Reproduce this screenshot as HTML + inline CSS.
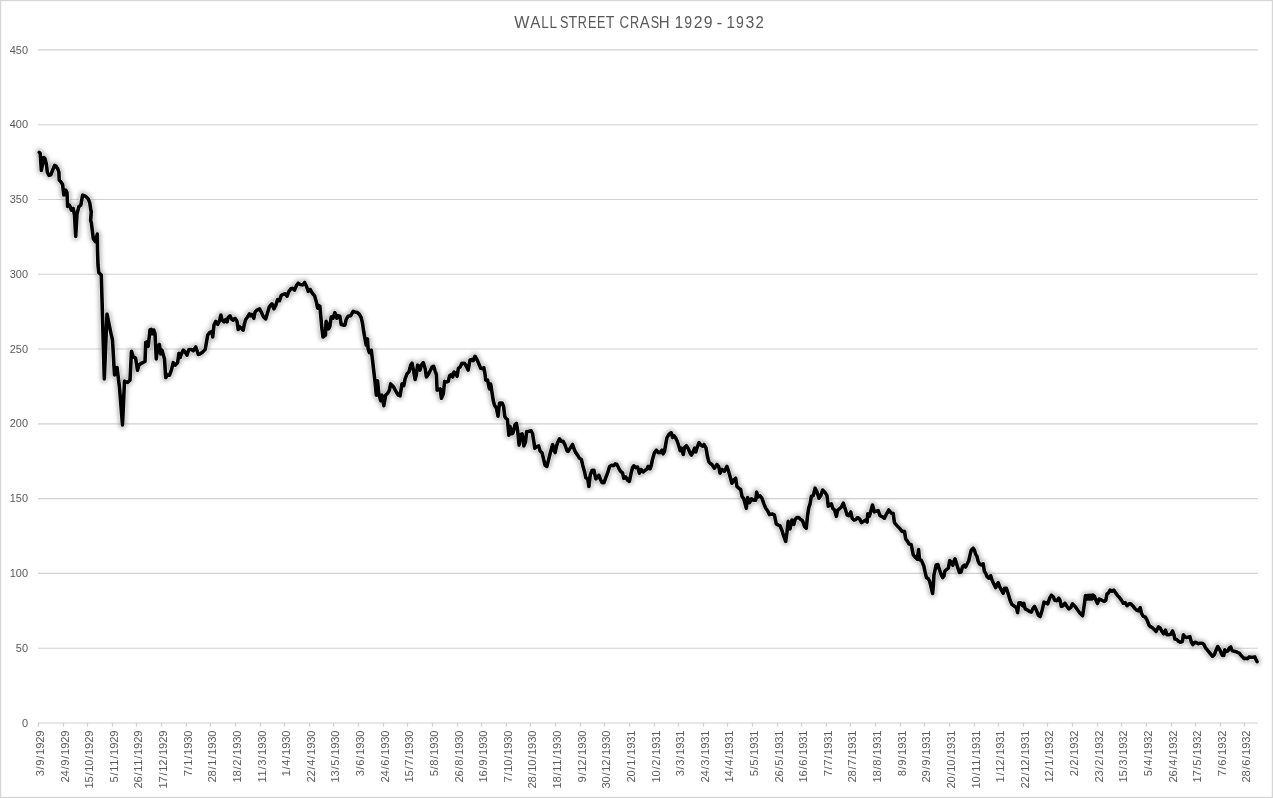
<!DOCTYPE html>
<html><head><meta charset="utf-8"><title>Wall Street Crash 1929 - 1932</title>
<style>
html,body{margin:0;padding:0;background:#fff;}
body{width:1273px;height:798px;overflow:hidden;}
svg{display:block;}
text{font-family:"Liberation Sans",Arial,sans-serif;fill:#595959;}
</style></head><body>
<svg width="1273" height="798" viewBox="0 0 1273 798">
<defs>
<filter id="glow" x="-5%" y="-5%" width="110%" height="110%">
<feGaussianBlur stdDeviation="2"/>
</filter>
<filter id="tb" x="-2%" y="-2%" width="104%" height="104%">
<feGaussianBlur stdDeviation="0.3"/>
</filter>
</defs>
<rect x="0" y="0" width="1273" height="798" fill="#fff"/>
<rect x="0.5" y="0.5" width="1272" height="797" fill="none" stroke="#d6d6d6" stroke-width="1.4"/>

<line x1="38" x2="1257.8" y1="648.21" y2="648.21" stroke="#d0d0d0" stroke-width="1.1"/>
<line x1="38" x2="1257.8" y1="573.42" y2="573.42" stroke="#d0d0d0" stroke-width="1.1"/>
<line x1="38" x2="1257.8" y1="498.63" y2="498.63" stroke="#d0d0d0" stroke-width="1.1"/>
<line x1="38" x2="1257.8" y1="423.84" y2="423.84" stroke="#d0d0d0" stroke-width="1.1"/>
<line x1="38" x2="1257.8" y1="349.06" y2="349.06" stroke="#d0d0d0" stroke-width="1.1"/>
<line x1="38" x2="1257.8" y1="274.27" y2="274.27" stroke="#d0d0d0" stroke-width="1.1"/>
<line x1="38" x2="1257.8" y1="199.48" y2="199.48" stroke="#d0d0d0" stroke-width="1.1"/>
<line x1="38" x2="1257.8" y1="124.69" y2="124.69" stroke="#d0d0d0" stroke-width="1.1"/>
<line x1="38" x2="1257.8" y1="49.90" y2="49.90" stroke="#d0d0d0" stroke-width="1.1"/>
<line x1="38" x2="1257.8" y1="723.00" y2="723.00" stroke="#d0d0d0" stroke-width="1.1"/>
<line x1="38.5" x2="38.5" y1="723.0" y2="726.4" stroke="#d0d0d0" stroke-width="1.3"/>
<line x1="63.5" x2="63.5" y1="723.0" y2="726.4" stroke="#d0d0d0" stroke-width="1.3"/>
<line x1="87.5" x2="87.5" y1="723.0" y2="726.4" stroke="#d0d0d0" stroke-width="1.3"/>
<line x1="112.5" x2="112.5" y1="723.0" y2="726.4" stroke="#d0d0d0" stroke-width="1.3"/>
<line x1="136.5" x2="136.5" y1="723.0" y2="726.4" stroke="#d0d0d0" stroke-width="1.3"/>
<line x1="161.5" x2="161.5" y1="723.0" y2="726.4" stroke="#d0d0d0" stroke-width="1.3"/>
<line x1="186.5" x2="186.5" y1="723.0" y2="726.4" stroke="#d0d0d0" stroke-width="1.3"/>
<line x1="210.5" x2="210.5" y1="723.0" y2="726.4" stroke="#d0d0d0" stroke-width="1.3"/>
<line x1="235.5" x2="235.5" y1="723.0" y2="726.4" stroke="#d0d0d0" stroke-width="1.3"/>
<line x1="260.5" x2="260.5" y1="723.0" y2="726.4" stroke="#d0d0d0" stroke-width="1.3"/>
<line x1="284.5" x2="284.5" y1="723.0" y2="726.4" stroke="#d0d0d0" stroke-width="1.3"/>
<line x1="309.5" x2="309.5" y1="723.0" y2="726.4" stroke="#d0d0d0" stroke-width="1.3"/>
<line x1="333.5" x2="333.5" y1="723.0" y2="726.4" stroke="#d0d0d0" stroke-width="1.3"/>
<line x1="358.5" x2="358.5" y1="723.0" y2="726.4" stroke="#d0d0d0" stroke-width="1.3"/>
<line x1="383.5" x2="383.5" y1="723.0" y2="726.4" stroke="#d0d0d0" stroke-width="1.3"/>
<line x1="407.5" x2="407.5" y1="723.0" y2="726.4" stroke="#d0d0d0" stroke-width="1.3"/>
<line x1="432.5" x2="432.5" y1="723.0" y2="726.4" stroke="#d0d0d0" stroke-width="1.3"/>
<line x1="457.5" x2="457.5" y1="723.0" y2="726.4" stroke="#d0d0d0" stroke-width="1.3"/>
<line x1="481.5" x2="481.5" y1="723.0" y2="726.4" stroke="#d0d0d0" stroke-width="1.3"/>
<line x1="506.5" x2="506.5" y1="723.0" y2="726.4" stroke="#d0d0d0" stroke-width="1.3"/>
<line x1="530.5" x2="530.5" y1="723.0" y2="726.4" stroke="#d0d0d0" stroke-width="1.3"/>
<line x1="555.5" x2="555.5" y1="723.0" y2="726.4" stroke="#d0d0d0" stroke-width="1.3"/>
<line x1="580.5" x2="580.5" y1="723.0" y2="726.4" stroke="#d0d0d0" stroke-width="1.3"/>
<line x1="604.5" x2="604.5" y1="723.0" y2="726.4" stroke="#d0d0d0" stroke-width="1.3"/>
<line x1="629.5" x2="629.5" y1="723.0" y2="726.4" stroke="#d0d0d0" stroke-width="1.3"/>
<line x1="654.5" x2="654.5" y1="723.0" y2="726.4" stroke="#d0d0d0" stroke-width="1.3"/>
<line x1="678.5" x2="678.5" y1="723.0" y2="726.4" stroke="#d0d0d0" stroke-width="1.3"/>
<line x1="703.5" x2="703.5" y1="723.0" y2="726.4" stroke="#d0d0d0" stroke-width="1.3"/>
<line x1="727.5" x2="727.5" y1="723.0" y2="726.4" stroke="#d0d0d0" stroke-width="1.3"/>
<line x1="752.5" x2="752.5" y1="723.0" y2="726.4" stroke="#d0d0d0" stroke-width="1.3"/>
<line x1="777.5" x2="777.5" y1="723.0" y2="726.4" stroke="#d0d0d0" stroke-width="1.3"/>
<line x1="801.5" x2="801.5" y1="723.0" y2="726.4" stroke="#d0d0d0" stroke-width="1.3"/>
<line x1="826.5" x2="826.5" y1="723.0" y2="726.4" stroke="#d0d0d0" stroke-width="1.3"/>
<line x1="850.5" x2="850.5" y1="723.0" y2="726.4" stroke="#d0d0d0" stroke-width="1.3"/>
<line x1="875.5" x2="875.5" y1="723.0" y2="726.4" stroke="#d0d0d0" stroke-width="1.3"/>
<line x1="900.5" x2="900.5" y1="723.0" y2="726.4" stroke="#d0d0d0" stroke-width="1.3"/>
<line x1="924.5" x2="924.5" y1="723.0" y2="726.4" stroke="#d0d0d0" stroke-width="1.3"/>
<line x1="949.5" x2="949.5" y1="723.0" y2="726.4" stroke="#d0d0d0" stroke-width="1.3"/>
<line x1="974.5" x2="974.5" y1="723.0" y2="726.4" stroke="#d0d0d0" stroke-width="1.3"/>
<line x1="998.5" x2="998.5" y1="723.0" y2="726.4" stroke="#d0d0d0" stroke-width="1.3"/>
<line x1="1023.5" x2="1023.5" y1="723.0" y2="726.4" stroke="#d0d0d0" stroke-width="1.3"/>
<line x1="1047.5" x2="1047.5" y1="723.0" y2="726.4" stroke="#d0d0d0" stroke-width="1.3"/>
<line x1="1072.5" x2="1072.5" y1="723.0" y2="726.4" stroke="#d0d0d0" stroke-width="1.3"/>
<line x1="1097.5" x2="1097.5" y1="723.0" y2="726.4" stroke="#d0d0d0" stroke-width="1.3"/>
<line x1="1121.5" x2="1121.5" y1="723.0" y2="726.4" stroke="#d0d0d0" stroke-width="1.3"/>
<line x1="1146.5" x2="1146.5" y1="723.0" y2="726.4" stroke="#d0d0d0" stroke-width="1.3"/>
<line x1="1171.5" x2="1171.5" y1="723.0" y2="726.4" stroke="#d0d0d0" stroke-width="1.3"/>
<line x1="1195.5" x2="1195.5" y1="723.0" y2="726.4" stroke="#d0d0d0" stroke-width="1.3"/>
<line x1="1220.5" x2="1220.5" y1="723.0" y2="726.4" stroke="#d0d0d0" stroke-width="1.3"/>
<line x1="1244.5" x2="1244.5" y1="723.0" y2="726.4" stroke="#d0d0d0" stroke-width="1.3"/>
<g filter="url(#tb)">
<text y="28" font-size="16.8">
<tspan x="514.23" textLength="15.13" lengthAdjust="spacingAndGlyphs">W</tspan>
<tspan x="530.37" textLength="9.35" lengthAdjust="spacingAndGlyphs">A</tspan>
<tspan x="541.27" textLength="7.01" lengthAdjust="spacingAndGlyphs">L</tspan>
<tspan x="549.47" textLength="7.01" lengthAdjust="spacingAndGlyphs">L</tspan>
<tspan x="559.93" textLength="8.40" lengthAdjust="spacingAndGlyphs">S</tspan>
<tspan x="568.39" textLength="8.43" lengthAdjust="spacingAndGlyphs">T</tspan>
<tspan x="577.77" textLength="9.10" lengthAdjust="spacingAndGlyphs">R</tspan>
<tspan x="587.97" textLength="8.40" lengthAdjust="spacingAndGlyphs">E</tspan>
<tspan x="597.07" textLength="8.40" lengthAdjust="spacingAndGlyphs">E</tspan>
<tspan x="605.69" textLength="8.43" lengthAdjust="spacingAndGlyphs">T</tspan>
<tspan x="619.43" textLength="9.58" lengthAdjust="spacingAndGlyphs">C</tspan>
<tspan x="630.07" textLength="9.10" lengthAdjust="spacingAndGlyphs">R</tspan>
<tspan x="639.87" textLength="9.15" lengthAdjust="spacingAndGlyphs">A</tspan>
<tspan x="650.73" textLength="8.40" lengthAdjust="spacingAndGlyphs">S</tspan>
<tspan x="658.67" textLength="10.86" lengthAdjust="spacingAndGlyphs">H</tspan>
<tspan x="674.85" textLength="8.38" lengthAdjust="spacingAndGlyphs">1</tspan>
<tspan x="684.14" textLength="7.83" lengthAdjust="spacingAndGlyphs">9</tspan>
<tspan x="693.71" textLength="8.79" lengthAdjust="spacingAndGlyphs">2</tspan>
<tspan x="703.66" textLength="8.79" lengthAdjust="spacingAndGlyphs">9</tspan>
<tspan x="716.42" textLength="5.87" lengthAdjust="spacingAndGlyphs">-</tspan>
<tspan x="726.45" textLength="8.38" lengthAdjust="spacingAndGlyphs">1</tspan>
<tspan x="736.04" textLength="7.83" lengthAdjust="spacingAndGlyphs">9</tspan>
<tspan x="745.50" textLength="8.80" lengthAdjust="spacingAndGlyphs">3</tspan>
<tspan x="755.45" textLength="8.30" lengthAdjust="spacingAndGlyphs">2</tspan>
</text>
<text x="21.9" y="726.6" font-size="11.8" textLength="6.1" lengthAdjust="spacingAndGlyphs">0</text>
<text x="15.8" y="651.8" font-size="11.8" textLength="12.2" lengthAdjust="spacingAndGlyphs">50</text>
<text x="9.7" y="577.0" font-size="11.8" textLength="18.3" lengthAdjust="spacingAndGlyphs">100</text>
<text x="9.7" y="502.2" font-size="11.8" textLength="18.3" lengthAdjust="spacingAndGlyphs">150</text>
<text x="9.7" y="427.4" font-size="11.8" textLength="18.3" lengthAdjust="spacingAndGlyphs">200</text>
<text x="9.7" y="352.7" font-size="11.8" textLength="18.3" lengthAdjust="spacingAndGlyphs">250</text>
<text x="9.7" y="277.9" font-size="11.8" textLength="18.3" lengthAdjust="spacingAndGlyphs">300</text>
<text x="9.7" y="203.1" font-size="11.8" textLength="18.3" lengthAdjust="spacingAndGlyphs">350</text>
<text x="9.7" y="128.3" font-size="11.8" textLength="18.3" lengthAdjust="spacingAndGlyphs">400</text>
<text x="9.7" y="53.5" font-size="11.8" textLength="18.3" lengthAdjust="spacingAndGlyphs">450</text>
<text transform="translate(43.7,776.3) rotate(-90)" font-size="11.2"><tspan x="-0.07">3</tspan><tspan x="6.85">/</tspan><tspan x="10.66">9</tspan><tspan x="17.58">/</tspan><tspan x="21.38">1</tspan><tspan x="27.47">9</tspan><tspan x="33.55">2</tspan><tspan x="39.64">9</tspan></text>
<text transform="translate(68.7,782.4) rotate(-90)" font-size="11.2"><tspan x="-0.07">2</tspan><tspan x="6.01">4</tspan><tspan x="12.93">/</tspan><tspan x="16.74">9</tspan><tspan x="23.66">/</tspan><tspan x="27.47">1</tspan><tspan x="33.55">9</tspan><tspan x="39.64">2</tspan><tspan x="45.72">9</tspan></text>
<text transform="translate(92.7,788.5) rotate(-90)" font-size="11.2"><tspan x="-0.07">1</tspan><tspan x="6.01">5</tspan><tspan x="12.93">/</tspan><tspan x="16.74">1</tspan><tspan x="22.82">0</tspan><tspan x="29.75">/</tspan><tspan x="33.55">1</tspan><tspan x="39.64">9</tspan><tspan x="45.72">2</tspan><tspan x="51.80">9</tspan></text>
<text transform="translate(117.7,782.4) rotate(-90)" font-size="11.2"><tspan x="-0.07">5</tspan><tspan x="6.85">/</tspan><tspan x="10.66">1</tspan><tspan x="16.74">1</tspan><tspan x="23.66">/</tspan><tspan x="27.47">1</tspan><tspan x="33.55">9</tspan><tspan x="39.64">2</tspan><tspan x="45.72">9</tspan></text>
<text transform="translate(141.7,788.5) rotate(-90)" font-size="11.2"><tspan x="-0.07">2</tspan><tspan x="6.01">6</tspan><tspan x="12.93">/</tspan><tspan x="16.74">1</tspan><tspan x="22.82">1</tspan><tspan x="29.75">/</tspan><tspan x="33.55">1</tspan><tspan x="39.64">9</tspan><tspan x="45.72">2</tspan><tspan x="51.80">9</tspan></text>
<text transform="translate(166.7,788.5) rotate(-90)" font-size="11.2"><tspan x="-0.07">1</tspan><tspan x="6.01">7</tspan><tspan x="12.93">/</tspan><tspan x="16.74">1</tspan><tspan x="22.82">2</tspan><tspan x="29.75">/</tspan><tspan x="33.55">1</tspan><tspan x="39.64">9</tspan><tspan x="45.72">2</tspan><tspan x="51.80">9</tspan></text>
<text transform="translate(191.7,776.3) rotate(-90)" font-size="11.2"><tspan x="-0.07">7</tspan><tspan x="6.85">/</tspan><tspan x="10.66">1</tspan><tspan x="17.58">/</tspan><tspan x="21.38">1</tspan><tspan x="27.47">9</tspan><tspan x="33.55">3</tspan><tspan x="39.64">0</tspan></text>
<text transform="translate(215.7,782.4) rotate(-90)" font-size="11.2"><tspan x="-0.07">2</tspan><tspan x="6.01">8</tspan><tspan x="12.93">/</tspan><tspan x="16.74">1</tspan><tspan x="23.66">/</tspan><tspan x="27.47">1</tspan><tspan x="33.55">9</tspan><tspan x="39.64">3</tspan><tspan x="45.72">0</tspan></text>
<text transform="translate(240.7,782.4) rotate(-90)" font-size="11.2"><tspan x="-0.07">1</tspan><tspan x="6.01">8</tspan><tspan x="12.93">/</tspan><tspan x="16.74">2</tspan><tspan x="23.66">/</tspan><tspan x="27.47">1</tspan><tspan x="33.55">9</tspan><tspan x="39.64">3</tspan><tspan x="45.72">0</tspan></text>
<text transform="translate(265.7,782.4) rotate(-90)" font-size="11.2"><tspan x="-0.07">1</tspan><tspan x="6.01">1</tspan><tspan x="12.93">/</tspan><tspan x="16.74">3</tspan><tspan x="23.66">/</tspan><tspan x="27.47">1</tspan><tspan x="33.55">9</tspan><tspan x="39.64">3</tspan><tspan x="45.72">0</tspan></text>
<text transform="translate(289.7,776.3) rotate(-90)" font-size="11.2"><tspan x="-0.07">1</tspan><tspan x="6.85">/</tspan><tspan x="10.66">4</tspan><tspan x="17.58">/</tspan><tspan x="21.38">1</tspan><tspan x="27.47">9</tspan><tspan x="33.55">3</tspan><tspan x="39.64">0</tspan></text>
<text transform="translate(314.7,782.4) rotate(-90)" font-size="11.2"><tspan x="-0.07">2</tspan><tspan x="6.01">2</tspan><tspan x="12.93">/</tspan><tspan x="16.74">4</tspan><tspan x="23.66">/</tspan><tspan x="27.47">1</tspan><tspan x="33.55">9</tspan><tspan x="39.64">3</tspan><tspan x="45.72">0</tspan></text>
<text transform="translate(338.7,782.4) rotate(-90)" font-size="11.2"><tspan x="-0.07">1</tspan><tspan x="6.01">3</tspan><tspan x="12.93">/</tspan><tspan x="16.74">5</tspan><tspan x="23.66">/</tspan><tspan x="27.47">1</tspan><tspan x="33.55">9</tspan><tspan x="39.64">3</tspan><tspan x="45.72">0</tspan></text>
<text transform="translate(363.7,776.3) rotate(-90)" font-size="11.2"><tspan x="-0.07">3</tspan><tspan x="6.85">/</tspan><tspan x="10.66">6</tspan><tspan x="17.58">/</tspan><tspan x="21.38">1</tspan><tspan x="27.47">9</tspan><tspan x="33.55">3</tspan><tspan x="39.64">0</tspan></text>
<text transform="translate(388.7,782.4) rotate(-90)" font-size="11.2"><tspan x="-0.07">2</tspan><tspan x="6.01">4</tspan><tspan x="12.93">/</tspan><tspan x="16.74">6</tspan><tspan x="23.66">/</tspan><tspan x="27.47">1</tspan><tspan x="33.55">9</tspan><tspan x="39.64">3</tspan><tspan x="45.72">0</tspan></text>
<text transform="translate(412.7,782.4) rotate(-90)" font-size="11.2"><tspan x="-0.07">1</tspan><tspan x="6.01">5</tspan><tspan x="12.93">/</tspan><tspan x="16.74">7</tspan><tspan x="23.66">/</tspan><tspan x="27.47">1</tspan><tspan x="33.55">9</tspan><tspan x="39.64">3</tspan><tspan x="45.72">0</tspan></text>
<text transform="translate(437.7,776.3) rotate(-90)" font-size="11.2"><tspan x="-0.07">5</tspan><tspan x="6.85">/</tspan><tspan x="10.66">8</tspan><tspan x="17.58">/</tspan><tspan x="21.38">1</tspan><tspan x="27.47">9</tspan><tspan x="33.55">3</tspan><tspan x="39.64">0</tspan></text>
<text transform="translate(462.7,782.4) rotate(-90)" font-size="11.2"><tspan x="-0.07">2</tspan><tspan x="6.01">6</tspan><tspan x="12.93">/</tspan><tspan x="16.74">8</tspan><tspan x="23.66">/</tspan><tspan x="27.47">1</tspan><tspan x="33.55">9</tspan><tspan x="39.64">3</tspan><tspan x="45.72">0</tspan></text>
<text transform="translate(486.7,782.4) rotate(-90)" font-size="11.2"><tspan x="-0.07">1</tspan><tspan x="6.01">6</tspan><tspan x="12.93">/</tspan><tspan x="16.74">9</tspan><tspan x="23.66">/</tspan><tspan x="27.47">1</tspan><tspan x="33.55">9</tspan><tspan x="39.64">3</tspan><tspan x="45.72">0</tspan></text>
<text transform="translate(511.7,782.4) rotate(-90)" font-size="11.2"><tspan x="-0.07">7</tspan><tspan x="6.85">/</tspan><tspan x="10.66">1</tspan><tspan x="16.74">0</tspan><tspan x="23.66">/</tspan><tspan x="27.47">1</tspan><tspan x="33.55">9</tspan><tspan x="39.64">3</tspan><tspan x="45.72">0</tspan></text>
<text transform="translate(535.7,788.5) rotate(-90)" font-size="11.2"><tspan x="-0.07">2</tspan><tspan x="6.01">8</tspan><tspan x="12.93">/</tspan><tspan x="16.74">1</tspan><tspan x="22.82">0</tspan><tspan x="29.75">/</tspan><tspan x="33.55">1</tspan><tspan x="39.64">9</tspan><tspan x="45.72">3</tspan><tspan x="51.80">0</tspan></text>
<text transform="translate(560.7,788.5) rotate(-90)" font-size="11.2"><tspan x="-0.07">1</tspan><tspan x="6.01">8</tspan><tspan x="12.93">/</tspan><tspan x="16.74">1</tspan><tspan x="22.82">1</tspan><tspan x="29.75">/</tspan><tspan x="33.55">1</tspan><tspan x="39.64">9</tspan><tspan x="45.72">3</tspan><tspan x="51.80">0</tspan></text>
<text transform="translate(585.7,782.4) rotate(-90)" font-size="11.2"><tspan x="-0.07">9</tspan><tspan x="6.85">/</tspan><tspan x="10.66">1</tspan><tspan x="16.74">2</tspan><tspan x="23.66">/</tspan><tspan x="27.47">1</tspan><tspan x="33.55">9</tspan><tspan x="39.64">3</tspan><tspan x="45.72">0</tspan></text>
<text transform="translate(609.7,788.5) rotate(-90)" font-size="11.2"><tspan x="-0.07">3</tspan><tspan x="6.01">0</tspan><tspan x="12.93">/</tspan><tspan x="16.74">1</tspan><tspan x="22.82">2</tspan><tspan x="29.75">/</tspan><tspan x="33.55">1</tspan><tspan x="39.64">9</tspan><tspan x="45.72">3</tspan><tspan x="51.80">0</tspan></text>
<text transform="translate(634.7,782.4) rotate(-90)" font-size="11.2"><tspan x="-0.07">2</tspan><tspan x="6.01">0</tspan><tspan x="12.93">/</tspan><tspan x="16.74">1</tspan><tspan x="23.66">/</tspan><tspan x="27.47">1</tspan><tspan x="33.55">9</tspan><tspan x="39.64">3</tspan><tspan x="45.72">1</tspan></text>
<text transform="translate(659.7,782.4) rotate(-90)" font-size="11.2"><tspan x="-0.07">1</tspan><tspan x="6.01">0</tspan><tspan x="12.93">/</tspan><tspan x="16.74">2</tspan><tspan x="23.66">/</tspan><tspan x="27.47">1</tspan><tspan x="33.55">9</tspan><tspan x="39.64">3</tspan><tspan x="45.72">1</tspan></text>
<text transform="translate(683.7,776.3) rotate(-90)" font-size="11.2"><tspan x="-0.07">3</tspan><tspan x="6.85">/</tspan><tspan x="10.66">3</tspan><tspan x="17.58">/</tspan><tspan x="21.38">1</tspan><tspan x="27.47">9</tspan><tspan x="33.55">3</tspan><tspan x="39.64">1</tspan></text>
<text transform="translate(708.7,782.4) rotate(-90)" font-size="11.2"><tspan x="-0.07">2</tspan><tspan x="6.01">4</tspan><tspan x="12.93">/</tspan><tspan x="16.74">3</tspan><tspan x="23.66">/</tspan><tspan x="27.47">1</tspan><tspan x="33.55">9</tspan><tspan x="39.64">3</tspan><tspan x="45.72">1</tspan></text>
<text transform="translate(732.7,782.4) rotate(-90)" font-size="11.2"><tspan x="-0.07">1</tspan><tspan x="6.01">4</tspan><tspan x="12.93">/</tspan><tspan x="16.74">4</tspan><tspan x="23.66">/</tspan><tspan x="27.47">1</tspan><tspan x="33.55">9</tspan><tspan x="39.64">3</tspan><tspan x="45.72">1</tspan></text>
<text transform="translate(757.7,776.3) rotate(-90)" font-size="11.2"><tspan x="-0.07">5</tspan><tspan x="6.85">/</tspan><tspan x="10.66">5</tspan><tspan x="17.58">/</tspan><tspan x="21.38">1</tspan><tspan x="27.47">9</tspan><tspan x="33.55">3</tspan><tspan x="39.64">1</tspan></text>
<text transform="translate(782.7,782.4) rotate(-90)" font-size="11.2"><tspan x="-0.07">2</tspan><tspan x="6.01">6</tspan><tspan x="12.93">/</tspan><tspan x="16.74">5</tspan><tspan x="23.66">/</tspan><tspan x="27.47">1</tspan><tspan x="33.55">9</tspan><tspan x="39.64">3</tspan><tspan x="45.72">1</tspan></text>
<text transform="translate(806.7,782.4) rotate(-90)" font-size="11.2"><tspan x="-0.07">1</tspan><tspan x="6.01">6</tspan><tspan x="12.93">/</tspan><tspan x="16.74">6</tspan><tspan x="23.66">/</tspan><tspan x="27.47">1</tspan><tspan x="33.55">9</tspan><tspan x="39.64">3</tspan><tspan x="45.72">1</tspan></text>
<text transform="translate(831.7,776.3) rotate(-90)" font-size="11.2"><tspan x="-0.07">7</tspan><tspan x="6.85">/</tspan><tspan x="10.66">7</tspan><tspan x="17.58">/</tspan><tspan x="21.38">1</tspan><tspan x="27.47">9</tspan><tspan x="33.55">3</tspan><tspan x="39.64">1</tspan></text>
<text transform="translate(855.7,782.4) rotate(-90)" font-size="11.2"><tspan x="-0.07">2</tspan><tspan x="6.01">8</tspan><tspan x="12.93">/</tspan><tspan x="16.74">7</tspan><tspan x="23.66">/</tspan><tspan x="27.47">1</tspan><tspan x="33.55">9</tspan><tspan x="39.64">3</tspan><tspan x="45.72">1</tspan></text>
<text transform="translate(880.7,782.4) rotate(-90)" font-size="11.2"><tspan x="-0.07">1</tspan><tspan x="6.01">8</tspan><tspan x="12.93">/</tspan><tspan x="16.74">8</tspan><tspan x="23.66">/</tspan><tspan x="27.47">1</tspan><tspan x="33.55">9</tspan><tspan x="39.64">3</tspan><tspan x="45.72">1</tspan></text>
<text transform="translate(905.7,776.3) rotate(-90)" font-size="11.2"><tspan x="-0.07">8</tspan><tspan x="6.85">/</tspan><tspan x="10.66">9</tspan><tspan x="17.58">/</tspan><tspan x="21.38">1</tspan><tspan x="27.47">9</tspan><tspan x="33.55">3</tspan><tspan x="39.64">1</tspan></text>
<text transform="translate(929.7,782.4) rotate(-90)" font-size="11.2"><tspan x="-0.07">2</tspan><tspan x="6.01">9</tspan><tspan x="12.93">/</tspan><tspan x="16.74">9</tspan><tspan x="23.66">/</tspan><tspan x="27.47">1</tspan><tspan x="33.55">9</tspan><tspan x="39.64">3</tspan><tspan x="45.72">1</tspan></text>
<text transform="translate(954.7,788.5) rotate(-90)" font-size="11.2"><tspan x="-0.07">2</tspan><tspan x="6.01">0</tspan><tspan x="12.93">/</tspan><tspan x="16.74">1</tspan><tspan x="22.82">0</tspan><tspan x="29.75">/</tspan><tspan x="33.55">1</tspan><tspan x="39.64">9</tspan><tspan x="45.72">3</tspan><tspan x="51.80">1</tspan></text>
<text transform="translate(979.7,788.5) rotate(-90)" font-size="11.2"><tspan x="-0.07">1</tspan><tspan x="6.01">0</tspan><tspan x="12.93">/</tspan><tspan x="16.74">1</tspan><tspan x="22.82">1</tspan><tspan x="29.75">/</tspan><tspan x="33.55">1</tspan><tspan x="39.64">9</tspan><tspan x="45.72">3</tspan><tspan x="51.80">1</tspan></text>
<text transform="translate(1003.7,782.4) rotate(-90)" font-size="11.2"><tspan x="-0.07">1</tspan><tspan x="6.85">/</tspan><tspan x="10.66">1</tspan><tspan x="16.74">2</tspan><tspan x="23.66">/</tspan><tspan x="27.47">1</tspan><tspan x="33.55">9</tspan><tspan x="39.64">3</tspan><tspan x="45.72">1</tspan></text>
<text transform="translate(1028.7,788.5) rotate(-90)" font-size="11.2"><tspan x="-0.07">2</tspan><tspan x="6.01">2</tspan><tspan x="12.93">/</tspan><tspan x="16.74">1</tspan><tspan x="22.82">2</tspan><tspan x="29.75">/</tspan><tspan x="33.55">1</tspan><tspan x="39.64">9</tspan><tspan x="45.72">3</tspan><tspan x="51.80">1</tspan></text>
<text transform="translate(1052.7,782.4) rotate(-90)" font-size="11.2"><tspan x="-0.07">1</tspan><tspan x="6.01">2</tspan><tspan x="12.93">/</tspan><tspan x="16.74">1</tspan><tspan x="23.66">/</tspan><tspan x="27.47">1</tspan><tspan x="33.55">9</tspan><tspan x="39.64">3</tspan><tspan x="45.72">2</tspan></text>
<text transform="translate(1077.7,776.3) rotate(-90)" font-size="11.2"><tspan x="-0.07">2</tspan><tspan x="6.85">/</tspan><tspan x="10.66">2</tspan><tspan x="17.58">/</tspan><tspan x="21.38">1</tspan><tspan x="27.47">9</tspan><tspan x="33.55">3</tspan><tspan x="39.64">2</tspan></text>
<text transform="translate(1102.7,782.4) rotate(-90)" font-size="11.2"><tspan x="-0.07">2</tspan><tspan x="6.01">3</tspan><tspan x="12.93">/</tspan><tspan x="16.74">2</tspan><tspan x="23.66">/</tspan><tspan x="27.47">1</tspan><tspan x="33.55">9</tspan><tspan x="39.64">3</tspan><tspan x="45.72">2</tspan></text>
<text transform="translate(1126.7,782.4) rotate(-90)" font-size="11.2"><tspan x="-0.07">1</tspan><tspan x="6.01">5</tspan><tspan x="12.93">/</tspan><tspan x="16.74">3</tspan><tspan x="23.66">/</tspan><tspan x="27.47">1</tspan><tspan x="33.55">9</tspan><tspan x="39.64">3</tspan><tspan x="45.72">2</tspan></text>
<text transform="translate(1151.7,776.3) rotate(-90)" font-size="11.2"><tspan x="-0.07">5</tspan><tspan x="6.85">/</tspan><tspan x="10.66">4</tspan><tspan x="17.58">/</tspan><tspan x="21.38">1</tspan><tspan x="27.47">9</tspan><tspan x="33.55">3</tspan><tspan x="39.64">2</tspan></text>
<text transform="translate(1176.7,782.4) rotate(-90)" font-size="11.2"><tspan x="-0.07">2</tspan><tspan x="6.01">6</tspan><tspan x="12.93">/</tspan><tspan x="16.74">4</tspan><tspan x="23.66">/</tspan><tspan x="27.47">1</tspan><tspan x="33.55">9</tspan><tspan x="39.64">3</tspan><tspan x="45.72">2</tspan></text>
<text transform="translate(1200.7,782.4) rotate(-90)" font-size="11.2"><tspan x="-0.07">1</tspan><tspan x="6.01">7</tspan><tspan x="12.93">/</tspan><tspan x="16.74">5</tspan><tspan x="23.66">/</tspan><tspan x="27.47">1</tspan><tspan x="33.55">9</tspan><tspan x="39.64">3</tspan><tspan x="45.72">2</tspan></text>
<text transform="translate(1225.7,776.3) rotate(-90)" font-size="11.2"><tspan x="-0.07">7</tspan><tspan x="6.85">/</tspan><tspan x="10.66">6</tspan><tspan x="17.58">/</tspan><tspan x="21.38">1</tspan><tspan x="27.47">9</tspan><tspan x="33.55">3</tspan><tspan x="39.64">2</tspan></text>
<text transform="translate(1249.7,782.4) rotate(-90)" font-size="11.2"><tspan x="-0.07">2</tspan><tspan x="6.01">8</tspan><tspan x="12.93">/</tspan><tspan x="16.74">6</tspan><tspan x="23.66">/</tspan><tspan x="27.47">1</tspan><tspan x="33.55">9</tspan><tspan x="39.64">3</tspan><tspan x="45.72">2</tspan></text>
</g>
<polyline points="39.2,152.3 40.2,153.5 41.4,170.5 43.6,157.5 44.9,158.5 46.3,164.0 47.4,172.5 49.0,175.4 50.8,174.8 52.5,170.5 54.6,165.3 56.2,166.3 57.8,169.0 58.9,172.0 59.2,180.0 61.1,182.1 62.6,184.5 63.8,195.0 65.7,190.1 67.0,192.6 67.6,206.4 69.5,205.2 71.4,210.2 73.2,208.3 74.5,215.2 75.7,236.5 77.0,214.0 78.9,206.4 80.8,205.2 82.6,195.1 85.8,196.4 88.3,198.9 89.8,203.0 90.8,210.0 91.3,211.5 90.6,220.5 91.3,222.5 93.3,238.6 95.5,241.7 97.3,234.1 97.5,250.0 98.0,265.0 98.8,272.6 101.3,275.0 104.3,379.0 107.0,314.0 111.3,335.0 112.5,340.0 114.5,375.0 117.0,367.5 119.5,387.5 122.5,425.0 124.5,381.0 127.5,382.5 130.0,380.2 131.5,351.4 133.1,356.4 135.6,358.3 137.5,370.2 138.8,365.2 141.3,363.3 145.0,361.4 145.7,342.6 147.5,341.4 148.2,346.4 150.0,330.0 151.3,329.4 152.3,333.8 153.8,330.0 155.0,333.8 156.3,358.9 157.6,347.6 159.4,344.5 160.7,353.9 162.0,350.1 163.2,354.5 164.5,358.9 165.7,377.7 167.6,374.6 169.5,375.2 171.4,370.2 173.2,362.7 175.1,365.2 177.6,362.7 178.9,353.3 180.1,357.6 181.4,353.9 183.3,350.1 185.1,352.0 187.0,355.1 188.9,349.5 191.4,349.5 193.3,350.8 195.8,347.0 198.3,354.5 200.2,353.9 202.7,352.0 205.2,349.5 207.7,335.1 209.6,332.6 212.1,331.3 212.7,337.0 214.0,325.1 215.8,321.3 217.7,324.4 219.6,320.7 220.9,315.0 222.1,320.0 224.0,321.9 225.9,319.4 227.1,321.9 228.1,317.6 230.0,315.8 231.9,319.5 233.1,320.1 235.0,318.3 236.9,320.8 238.2,329.5 239.4,326.4 241.3,328.3 243.2,330.2 244.4,323.9 245.7,319.5 247.6,317.0 249.4,313.9 250.7,315.8 251.9,314.5 253.8,318.3 255.1,312.0 257.0,310.1 259.5,308.9 261.3,312.0 263.2,316.4 265.7,318.9 267.6,312.6 269.5,306.4 272.0,303.8 273.9,308.9 275.8,305.1 277.6,299.5 279.5,300.7 281.4,295.1 283.3,294.4 285.2,293.8 287.0,296.3 288.9,291.3 290.8,288.8 292.7,288.2 294.5,290.1 296.4,285.7 298.3,283.2 300.2,284.4 302.7,285.0 304.6,282.5 306.5,286.3 308.3,291.3 310.2,289.4 311.5,291.9 313.3,294.4 314.6,295.7 316.5,302.6 317.7,308.2 319.0,305.7 319.9,306.3 321.8,327.6 323.0,337.0 325.5,335.1 326.1,321.3 327.4,325.1 328.7,328.8 329.9,326.3 331.2,316.9 333.0,318.2 334.9,312.6 336.8,318.2 338.1,315.7 339.9,316.3 341.2,324.5 343.1,325.1 344.9,325.1 346.2,319.4 348.1,316.3 350.6,315.7 351.8,313.8 353.1,311.3 355.0,311.9 357.5,312.6 359.4,314.4 361.2,317.6 362.5,323.2 363.7,331.4 365.0,338.9 366.2,345.1 367.5,338.9 368.1,348.9 369.4,352.7 371.3,350.2 372.5,360.0 373.8,371.3 375.0,381.4 376.3,395.1 377.5,380.7 378.8,393.9 380.7,400.8 381.9,395.1 383.8,405.8 385.7,395.1 387.6,393.3 389.4,390.1 390.7,383.9 393.2,386.4 395.7,390.8 398.2,395.1 400.1,395.8 402.0,383.9 403.8,385.7 405.1,378.8 407.0,373.8 408.9,372.0 410.7,365.1 412.0,363.2 413.2,368.8 415.1,379.5 416.4,374.5 417.6,365.1 418.9,366.3 420.1,370.1 421.4,365.1 423.3,362.6 425.2,368.8 426.4,377.0 428.3,374.5 430.2,370.7 432.0,366.9 433.7,366.3 435.2,371.3 436.4,374.5 437.1,390.1 438.9,389.5 440.2,388.9 441.4,398.3 443.3,393.9 444.6,381.4 446.5,382.0 448.3,381.4 449.6,375.7 451.5,374.5 452.7,377.0 454.0,372.0 455.9,373.8 457.1,376.3 458.4,368.2 460.2,366.9 461.9,363.2 464.4,363.2 466.3,366.3 468.1,370.1 470.0,360.0 471.9,359.4 473.2,360.7 475.0,356.3 476.9,359.4 478.8,363.8 480.7,368.2 482.6,368.8 483.8,367.6 485.1,374.5 485.7,380.1 487.6,380.1 489.4,388.9 490.7,383.9 492.0,392.6 493.2,400.2 494.5,405.2 496.5,408.3 498.0,416.2 499.5,403.0 502.1,403.0 503.6,406.4 504.8,416.5 505.9,418.4 507.4,419.5 508.9,435.3 510.0,426.3 511.5,433.8 513.0,433.1 514.9,424.8 516.4,423.3 517.6,430.1 519.1,445.1 520.6,434.6 522.1,433.8 523.9,445.9 525.5,442.1 526.6,431.6 528.1,431.6 531.1,430.8 532.6,433.8 534.1,443.6 534.8,448.1 536.4,446.6 538.6,445.9 540.1,451.1 542.0,452.6 543.1,457.1 545.1,465.2 546.9,466.4 548.8,458.9 550.7,451.4 552.6,444.5 553.8,449.5 555.1,452.6 556.3,447.0 557.6,442.6 559.5,438.8 561.4,441.4 563.2,441.4 565.1,445.1 567.0,450.8 568.2,451.4 570.1,448.2 572.6,444.5 574.5,450.1 575.8,452.6 577.6,455.1 579.5,458.3 581.4,459.5 582.7,465.2 584.5,471.4 585.8,477.7 587.7,478.9 588.9,486.5 590.2,475.2 592.1,470.2 593.9,470.2 595.8,478.9 597.1,477.7 598.9,475.2 600.2,478.9 602.1,482.7 604.0,482.7 605.8,477.7 607.7,472.7 609.6,466.4 611.5,465.2 613.4,465.8 615.2,463.9 616.9,464.5 618.8,468.3 620.6,471.4 622.5,472.7 623.8,478.3 625.7,477.0 627.5,480.2 629.4,481.4 630.7,475.2 632.5,467.6 633.8,465.8 635.7,467.6 637.6,467.0 639.4,473.3 641.3,469.5 643.2,472.0 645.1,470.2 647.0,468.9 648.2,466.4 650.1,468.9 651.3,465.1 652.6,458.9 654.5,452.6 656.4,450.1 658.2,452.6 660.1,452.6 662.0,450.1 663.2,453.9 664.5,451.4 665.8,443.8 667.0,437.6 668.9,434.4 671.1,432.6 672.6,437.6 673.9,435.7 675.8,438.2 677.0,440.7 678.3,444.5 680.2,450.7 681.4,448.2 683.3,454.5 684.5,447.6 686.4,445.7 688.3,448.8 690.2,453.2 691.4,455.1 693.3,451.4 694.6,448.2 695.8,452.0 697.1,447.6 699.0,442.6 700.8,445.1 702.7,446.3 704.0,444.5 705.9,447.6 707.7,457.6 709.0,462.0 710.9,463.9 711.9,464.4 714.4,468.2 716.9,464.4 718.8,466.9 720.0,473.2 721.9,469.4 724.4,471.3 726.9,466.3 728.8,472.0 730.0,476.3 731.9,483.2 733.8,480.1 735.7,478.2 736.9,486.4 738.8,488.2 740.7,489.5 742.0,496.4 743.8,498.9 746.3,508.3 747.6,497.6 749.5,502.7 751.4,498.9 753.9,500.2 755.7,500.2 756.6,492.0 758.2,497.0 760.1,495.8 762.0,498.3 763.9,503.9 765.8,508.3 767.6,510.8 769.5,514.6 772.5,513.9 774.4,515.1 776.3,523.9 778.1,525.1 780.0,525.8 781.9,530.2 783.8,536.4 785.7,541.4 786.9,532.7 788.2,521.4 790.0,528.9 791.9,520.1 793.8,524.5 795.1,519.5 796.9,517.6 798.8,517.6 800.7,519.5 802.6,520.8 804.5,526.4 806.3,528.3 807.6,515.1 808.8,507.6 810.1,503.8 811.4,496.3 813.2,495.7 815.1,488.2 817.0,491.9 818.9,498.2 820.8,495.7 822.6,490.0 825.1,492.6 827.0,495.7 828.3,506.3 830.2,504.5 831.4,503.8 832.7,508.2 834.5,510.1 836.4,516.4 837.7,510.1 839.5,508.8 841.4,507.0 843.3,503.2 845.2,508.8 847.1,515.1 848.9,515.7 850.8,512.0 852.1,518.2 854.0,520.1 855.8,519.5 857.7,517.6 859.6,518.9 861.5,522.6 863.4,521.4 865.2,520.1 867.1,522.0 867.7,513.9 869.4,516.3 870.6,511.9 872.5,505.0 874.4,511.9 876.3,511.3 878.2,510.7 880.0,515.7 882.5,516.9 884.4,518.2 886.3,514.4 888.8,510.0 891.3,513.2 893.2,513.2 894.4,522.6 897.0,525.7 899.5,528.2 902.0,531.4 904.5,531.4 905.7,538.9 907.6,541.4 908.9,543.9 911.1,544.4 913.3,554.9 915.5,557.5 917.3,559.3 918.6,549.6 919.5,559.7 921.2,560.2 922.1,561.9 923.9,566.3 925.2,572.5 926.5,577.7 928.2,578.6 929.6,581.2 931.3,588.2 932.6,593.5 933.5,583.9 933.9,575.1 935.3,568.9 936.1,565.0 937.9,564.6 939.2,568.9 941.0,574.2 942.7,577.7 944.0,576.0 944.9,571.1 946.2,569.8 948.4,568.1 949.7,560.6 951.5,562.4 952.8,565.4 953.7,561.5 955.0,558.9 956.3,562.8 957.6,567.2 959.4,572.5 961.1,572.0 962.5,566.8 964.4,565.1 965.6,567.0 967.5,563.2 968.8,560.7 970.0,555.1 971.3,550.0 973.2,548.2 974.4,550.0 975.7,554.4 976.9,556.3 978.2,561.3 979.4,563.8 981.3,565.1 983.2,563.8 984.4,571.4 985.7,573.2 986.9,576.4 988.8,578.2 990.7,575.7 992.0,580.1 993.8,583.9 995.7,587.6 998.2,582.6 999.5,586.4 1001.4,590.2 1003.2,593.3 1004.5,588.3 1006.4,588.3 1008.2,593.9 1010.1,600.2 1012.0,604.6 1013.9,605.8 1016.4,607.7 1017.6,612.7 1018.9,602.7 1020.8,602.7 1022.7,605.8 1023.9,603.3 1025.2,608.9 1027.7,610.2 1029.6,611.5 1031.4,612.1 1032.7,608.9 1034.6,606.4 1036.4,610.2 1038.3,615.2 1040.2,616.5 1042.1,610.2 1044.0,602.1 1045.8,602.7 1047.7,603.9 1049.6,598.3 1051.5,595.2 1053.4,597.0 1054.6,600.2 1056.9,600.7 1058.8,598.2 1060.0,600.1 1061.3,606.4 1063.1,605.7 1065.0,603.2 1066.9,606.4 1068.8,608.9 1070.7,607.6 1072.5,603.9 1074.4,605.7 1076.3,608.2 1078.2,610.8 1080.1,613.3 1082.6,615.8 1084.4,603.9 1085.5,595.5 1086.4,599.0 1087.3,595.5 1088.2,599.0 1089.1,595.3 1090.0,599.0 1091.0,595.3 1092.0,599.0 1093.0,595.0 1094.5,596.3 1096.0,600.5 1097.5,603.5 1099.0,599.0 1101.5,600.0 1104.3,601.5 1105.8,600.1 1107.0,593.8 1108.3,593.2 1110.1,590.1 1112.0,591.3 1113.9,590.1 1115.8,593.2 1117.7,595.7 1119.5,597.6 1121.4,600.1 1123.3,603.2 1125.2,602.6 1127.1,605.7 1128.9,603.9 1130.8,603.9 1132.7,605.7 1134.6,608.2 1136.5,610.1 1138.3,610.8 1140.2,607.6 1141.5,613.3 1143.3,616.4 1145.2,617.0 1147.1,620.2 1149.0,625.2 1150.2,626.5 1151.9,627.3 1153.8,629.1 1156.1,631.5 1158.5,626.8 1160.3,628.2 1162.2,632.0 1163.6,633.8 1165.5,630.1 1166.9,634.8 1168.8,634.8 1170.7,634.3 1172.6,631.0 1174.0,634.8 1174.9,639.0 1176.8,639.5 1178.7,641.4 1180.5,642.3 1182.4,641.4 1183.4,634.8 1185.2,637.1 1186.7,637.6 1188.5,637.1 1189.9,636.7 1191.4,642.3 1192.8,644.6 1194.6,642.3 1196.1,642.3 1197.9,643.7 1199.8,643.2 1202.2,643.2 1204.0,644.6 1205.5,647.9 1206.9,649.3 1208.7,651.7 1210.6,654.0 1212.5,656.4 1214.4,654.5 1215.8,650.8 1217.7,646.5 1219.5,649.3 1221.0,652.6 1222.4,655.5 1223.8,655.5 1224.7,649.8 1226.1,651.7 1228.0,650.8 1229.4,647.9 1230.8,647.0 1232.2,650.8 1234.1,651.2 1236.0,651.7 1237.9,652.6 1239.3,653.1 1240.7,655.0 1242.6,656.9 1244.0,658.7 1245.9,658.3 1247.7,658.7 1249.2,656.9 1251.0,657.3 1252.9,657.3 1254.8,656.9 1255.7,659.2 1257.1,661.6" fill="none" stroke="#8a8a8a" stroke-width="7" stroke-linejoin="round" stroke-linecap="round" filter="url(#glow)" opacity="0.65"/>
<polyline points="39.2,152.3 40.2,153.5 41.4,170.5 43.6,157.5 44.9,158.5 46.3,164.0 47.4,172.5 49.0,175.4 50.8,174.8 52.5,170.5 54.6,165.3 56.2,166.3 57.8,169.0 58.9,172.0 59.2,180.0 61.1,182.1 62.6,184.5 63.8,195.0 65.7,190.1 67.0,192.6 67.6,206.4 69.5,205.2 71.4,210.2 73.2,208.3 74.5,215.2 75.7,236.5 77.0,214.0 78.9,206.4 80.8,205.2 82.6,195.1 85.8,196.4 88.3,198.9 89.8,203.0 90.8,210.0 91.3,211.5 90.6,220.5 91.3,222.5 93.3,238.6 95.5,241.7 97.3,234.1 97.5,250.0 98.0,265.0 98.8,272.6 101.3,275.0 104.3,379.0 107.0,314.0 111.3,335.0 112.5,340.0 114.5,375.0 117.0,367.5 119.5,387.5 122.5,425.0 124.5,381.0 127.5,382.5 130.0,380.2 131.5,351.4 133.1,356.4 135.6,358.3 137.5,370.2 138.8,365.2 141.3,363.3 145.0,361.4 145.7,342.6 147.5,341.4 148.2,346.4 150.0,330.0 151.3,329.4 152.3,333.8 153.8,330.0 155.0,333.8 156.3,358.9 157.6,347.6 159.4,344.5 160.7,353.9 162.0,350.1 163.2,354.5 164.5,358.9 165.7,377.7 167.6,374.6 169.5,375.2 171.4,370.2 173.2,362.7 175.1,365.2 177.6,362.7 178.9,353.3 180.1,357.6 181.4,353.9 183.3,350.1 185.1,352.0 187.0,355.1 188.9,349.5 191.4,349.5 193.3,350.8 195.8,347.0 198.3,354.5 200.2,353.9 202.7,352.0 205.2,349.5 207.7,335.1 209.6,332.6 212.1,331.3 212.7,337.0 214.0,325.1 215.8,321.3 217.7,324.4 219.6,320.7 220.9,315.0 222.1,320.0 224.0,321.9 225.9,319.4 227.1,321.9 228.1,317.6 230.0,315.8 231.9,319.5 233.1,320.1 235.0,318.3 236.9,320.8 238.2,329.5 239.4,326.4 241.3,328.3 243.2,330.2 244.4,323.9 245.7,319.5 247.6,317.0 249.4,313.9 250.7,315.8 251.9,314.5 253.8,318.3 255.1,312.0 257.0,310.1 259.5,308.9 261.3,312.0 263.2,316.4 265.7,318.9 267.6,312.6 269.5,306.4 272.0,303.8 273.9,308.9 275.8,305.1 277.6,299.5 279.5,300.7 281.4,295.1 283.3,294.4 285.2,293.8 287.0,296.3 288.9,291.3 290.8,288.8 292.7,288.2 294.5,290.1 296.4,285.7 298.3,283.2 300.2,284.4 302.7,285.0 304.6,282.5 306.5,286.3 308.3,291.3 310.2,289.4 311.5,291.9 313.3,294.4 314.6,295.7 316.5,302.6 317.7,308.2 319.0,305.7 319.9,306.3 321.8,327.6 323.0,337.0 325.5,335.1 326.1,321.3 327.4,325.1 328.7,328.8 329.9,326.3 331.2,316.9 333.0,318.2 334.9,312.6 336.8,318.2 338.1,315.7 339.9,316.3 341.2,324.5 343.1,325.1 344.9,325.1 346.2,319.4 348.1,316.3 350.6,315.7 351.8,313.8 353.1,311.3 355.0,311.9 357.5,312.6 359.4,314.4 361.2,317.6 362.5,323.2 363.7,331.4 365.0,338.9 366.2,345.1 367.5,338.9 368.1,348.9 369.4,352.7 371.3,350.2 372.5,360.0 373.8,371.3 375.0,381.4 376.3,395.1 377.5,380.7 378.8,393.9 380.7,400.8 381.9,395.1 383.8,405.8 385.7,395.1 387.6,393.3 389.4,390.1 390.7,383.9 393.2,386.4 395.7,390.8 398.2,395.1 400.1,395.8 402.0,383.9 403.8,385.7 405.1,378.8 407.0,373.8 408.9,372.0 410.7,365.1 412.0,363.2 413.2,368.8 415.1,379.5 416.4,374.5 417.6,365.1 418.9,366.3 420.1,370.1 421.4,365.1 423.3,362.6 425.2,368.8 426.4,377.0 428.3,374.5 430.2,370.7 432.0,366.9 433.7,366.3 435.2,371.3 436.4,374.5 437.1,390.1 438.9,389.5 440.2,388.9 441.4,398.3 443.3,393.9 444.6,381.4 446.5,382.0 448.3,381.4 449.6,375.7 451.5,374.5 452.7,377.0 454.0,372.0 455.9,373.8 457.1,376.3 458.4,368.2 460.2,366.9 461.9,363.2 464.4,363.2 466.3,366.3 468.1,370.1 470.0,360.0 471.9,359.4 473.2,360.7 475.0,356.3 476.9,359.4 478.8,363.8 480.7,368.2 482.6,368.8 483.8,367.6 485.1,374.5 485.7,380.1 487.6,380.1 489.4,388.9 490.7,383.9 492.0,392.6 493.2,400.2 494.5,405.2 496.5,408.3 498.0,416.2 499.5,403.0 502.1,403.0 503.6,406.4 504.8,416.5 505.9,418.4 507.4,419.5 508.9,435.3 510.0,426.3 511.5,433.8 513.0,433.1 514.9,424.8 516.4,423.3 517.6,430.1 519.1,445.1 520.6,434.6 522.1,433.8 523.9,445.9 525.5,442.1 526.6,431.6 528.1,431.6 531.1,430.8 532.6,433.8 534.1,443.6 534.8,448.1 536.4,446.6 538.6,445.9 540.1,451.1 542.0,452.6 543.1,457.1 545.1,465.2 546.9,466.4 548.8,458.9 550.7,451.4 552.6,444.5 553.8,449.5 555.1,452.6 556.3,447.0 557.6,442.6 559.5,438.8 561.4,441.4 563.2,441.4 565.1,445.1 567.0,450.8 568.2,451.4 570.1,448.2 572.6,444.5 574.5,450.1 575.8,452.6 577.6,455.1 579.5,458.3 581.4,459.5 582.7,465.2 584.5,471.4 585.8,477.7 587.7,478.9 588.9,486.5 590.2,475.2 592.1,470.2 593.9,470.2 595.8,478.9 597.1,477.7 598.9,475.2 600.2,478.9 602.1,482.7 604.0,482.7 605.8,477.7 607.7,472.7 609.6,466.4 611.5,465.2 613.4,465.8 615.2,463.9 616.9,464.5 618.8,468.3 620.6,471.4 622.5,472.7 623.8,478.3 625.7,477.0 627.5,480.2 629.4,481.4 630.7,475.2 632.5,467.6 633.8,465.8 635.7,467.6 637.6,467.0 639.4,473.3 641.3,469.5 643.2,472.0 645.1,470.2 647.0,468.9 648.2,466.4 650.1,468.9 651.3,465.1 652.6,458.9 654.5,452.6 656.4,450.1 658.2,452.6 660.1,452.6 662.0,450.1 663.2,453.9 664.5,451.4 665.8,443.8 667.0,437.6 668.9,434.4 671.1,432.6 672.6,437.6 673.9,435.7 675.8,438.2 677.0,440.7 678.3,444.5 680.2,450.7 681.4,448.2 683.3,454.5 684.5,447.6 686.4,445.7 688.3,448.8 690.2,453.2 691.4,455.1 693.3,451.4 694.6,448.2 695.8,452.0 697.1,447.6 699.0,442.6 700.8,445.1 702.7,446.3 704.0,444.5 705.9,447.6 707.7,457.6 709.0,462.0 710.9,463.9 711.9,464.4 714.4,468.2 716.9,464.4 718.8,466.9 720.0,473.2 721.9,469.4 724.4,471.3 726.9,466.3 728.8,472.0 730.0,476.3 731.9,483.2 733.8,480.1 735.7,478.2 736.9,486.4 738.8,488.2 740.7,489.5 742.0,496.4 743.8,498.9 746.3,508.3 747.6,497.6 749.5,502.7 751.4,498.9 753.9,500.2 755.7,500.2 756.6,492.0 758.2,497.0 760.1,495.8 762.0,498.3 763.9,503.9 765.8,508.3 767.6,510.8 769.5,514.6 772.5,513.9 774.4,515.1 776.3,523.9 778.1,525.1 780.0,525.8 781.9,530.2 783.8,536.4 785.7,541.4 786.9,532.7 788.2,521.4 790.0,528.9 791.9,520.1 793.8,524.5 795.1,519.5 796.9,517.6 798.8,517.6 800.7,519.5 802.6,520.8 804.5,526.4 806.3,528.3 807.6,515.1 808.8,507.6 810.1,503.8 811.4,496.3 813.2,495.7 815.1,488.2 817.0,491.9 818.9,498.2 820.8,495.7 822.6,490.0 825.1,492.6 827.0,495.7 828.3,506.3 830.2,504.5 831.4,503.8 832.7,508.2 834.5,510.1 836.4,516.4 837.7,510.1 839.5,508.8 841.4,507.0 843.3,503.2 845.2,508.8 847.1,515.1 848.9,515.7 850.8,512.0 852.1,518.2 854.0,520.1 855.8,519.5 857.7,517.6 859.6,518.9 861.5,522.6 863.4,521.4 865.2,520.1 867.1,522.0 867.7,513.9 869.4,516.3 870.6,511.9 872.5,505.0 874.4,511.9 876.3,511.3 878.2,510.7 880.0,515.7 882.5,516.9 884.4,518.2 886.3,514.4 888.8,510.0 891.3,513.2 893.2,513.2 894.4,522.6 897.0,525.7 899.5,528.2 902.0,531.4 904.5,531.4 905.7,538.9 907.6,541.4 908.9,543.9 911.1,544.4 913.3,554.9 915.5,557.5 917.3,559.3 918.6,549.6 919.5,559.7 921.2,560.2 922.1,561.9 923.9,566.3 925.2,572.5 926.5,577.7 928.2,578.6 929.6,581.2 931.3,588.2 932.6,593.5 933.5,583.9 933.9,575.1 935.3,568.9 936.1,565.0 937.9,564.6 939.2,568.9 941.0,574.2 942.7,577.7 944.0,576.0 944.9,571.1 946.2,569.8 948.4,568.1 949.7,560.6 951.5,562.4 952.8,565.4 953.7,561.5 955.0,558.9 956.3,562.8 957.6,567.2 959.4,572.5 961.1,572.0 962.5,566.8 964.4,565.1 965.6,567.0 967.5,563.2 968.8,560.7 970.0,555.1 971.3,550.0 973.2,548.2 974.4,550.0 975.7,554.4 976.9,556.3 978.2,561.3 979.4,563.8 981.3,565.1 983.2,563.8 984.4,571.4 985.7,573.2 986.9,576.4 988.8,578.2 990.7,575.7 992.0,580.1 993.8,583.9 995.7,587.6 998.2,582.6 999.5,586.4 1001.4,590.2 1003.2,593.3 1004.5,588.3 1006.4,588.3 1008.2,593.9 1010.1,600.2 1012.0,604.6 1013.9,605.8 1016.4,607.7 1017.6,612.7 1018.9,602.7 1020.8,602.7 1022.7,605.8 1023.9,603.3 1025.2,608.9 1027.7,610.2 1029.6,611.5 1031.4,612.1 1032.7,608.9 1034.6,606.4 1036.4,610.2 1038.3,615.2 1040.2,616.5 1042.1,610.2 1044.0,602.1 1045.8,602.7 1047.7,603.9 1049.6,598.3 1051.5,595.2 1053.4,597.0 1054.6,600.2 1056.9,600.7 1058.8,598.2 1060.0,600.1 1061.3,606.4 1063.1,605.7 1065.0,603.2 1066.9,606.4 1068.8,608.9 1070.7,607.6 1072.5,603.9 1074.4,605.7 1076.3,608.2 1078.2,610.8 1080.1,613.3 1082.6,615.8 1084.4,603.9 1085.5,595.5 1086.4,599.0 1087.3,595.5 1088.2,599.0 1089.1,595.3 1090.0,599.0 1091.0,595.3 1092.0,599.0 1093.0,595.0 1094.5,596.3 1096.0,600.5 1097.5,603.5 1099.0,599.0 1101.5,600.0 1104.3,601.5 1105.8,600.1 1107.0,593.8 1108.3,593.2 1110.1,590.1 1112.0,591.3 1113.9,590.1 1115.8,593.2 1117.7,595.7 1119.5,597.6 1121.4,600.1 1123.3,603.2 1125.2,602.6 1127.1,605.7 1128.9,603.9 1130.8,603.9 1132.7,605.7 1134.6,608.2 1136.5,610.1 1138.3,610.8 1140.2,607.6 1141.5,613.3 1143.3,616.4 1145.2,617.0 1147.1,620.2 1149.0,625.2 1150.2,626.5 1151.9,627.3 1153.8,629.1 1156.1,631.5 1158.5,626.8 1160.3,628.2 1162.2,632.0 1163.6,633.8 1165.5,630.1 1166.9,634.8 1168.8,634.8 1170.7,634.3 1172.6,631.0 1174.0,634.8 1174.9,639.0 1176.8,639.5 1178.7,641.4 1180.5,642.3 1182.4,641.4 1183.4,634.8 1185.2,637.1 1186.7,637.6 1188.5,637.1 1189.9,636.7 1191.4,642.3 1192.8,644.6 1194.6,642.3 1196.1,642.3 1197.9,643.7 1199.8,643.2 1202.2,643.2 1204.0,644.6 1205.5,647.9 1206.9,649.3 1208.7,651.7 1210.6,654.0 1212.5,656.4 1214.4,654.5 1215.8,650.8 1217.7,646.5 1219.5,649.3 1221.0,652.6 1222.4,655.5 1223.8,655.5 1224.7,649.8 1226.1,651.7 1228.0,650.8 1229.4,647.9 1230.8,647.0 1232.2,650.8 1234.1,651.2 1236.0,651.7 1237.9,652.6 1239.3,653.1 1240.7,655.0 1242.6,656.9 1244.0,658.7 1245.9,658.3 1247.7,658.7 1249.2,656.9 1251.0,657.3 1252.9,657.3 1254.8,656.9 1255.7,659.2 1257.1,661.6" fill="none" stroke="#fff" stroke-width="4.8" stroke-opacity="0.75" stroke-linejoin="round" stroke-linecap="round"/>
<polyline points="39.2,152.3 40.2,153.5 41.4,170.5 43.6,157.5 44.9,158.5 46.3,164.0 47.4,172.5 49.0,175.4 50.8,174.8 52.5,170.5 54.6,165.3 56.2,166.3 57.8,169.0 58.9,172.0 59.2,180.0 61.1,182.1 62.6,184.5 63.8,195.0 65.7,190.1 67.0,192.6 67.6,206.4 69.5,205.2 71.4,210.2 73.2,208.3 74.5,215.2 75.7,236.5 77.0,214.0 78.9,206.4 80.8,205.2 82.6,195.1 85.8,196.4 88.3,198.9 89.8,203.0 90.8,210.0 91.3,211.5 90.6,220.5 91.3,222.5 93.3,238.6 95.5,241.7 97.3,234.1 97.5,250.0 98.0,265.0 98.8,272.6 101.3,275.0 104.3,379.0 107.0,314.0 111.3,335.0 112.5,340.0 114.5,375.0 117.0,367.5 119.5,387.5 122.5,425.0 124.5,381.0 127.5,382.5 130.0,380.2 131.5,351.4 133.1,356.4 135.6,358.3 137.5,370.2 138.8,365.2 141.3,363.3 145.0,361.4 145.7,342.6 147.5,341.4 148.2,346.4 150.0,330.0 151.3,329.4 152.3,333.8 153.8,330.0 155.0,333.8 156.3,358.9 157.6,347.6 159.4,344.5 160.7,353.9 162.0,350.1 163.2,354.5 164.5,358.9 165.7,377.7 167.6,374.6 169.5,375.2 171.4,370.2 173.2,362.7 175.1,365.2 177.6,362.7 178.9,353.3 180.1,357.6 181.4,353.9 183.3,350.1 185.1,352.0 187.0,355.1 188.9,349.5 191.4,349.5 193.3,350.8 195.8,347.0 198.3,354.5 200.2,353.9 202.7,352.0 205.2,349.5 207.7,335.1 209.6,332.6 212.1,331.3 212.7,337.0 214.0,325.1 215.8,321.3 217.7,324.4 219.6,320.7 220.9,315.0 222.1,320.0 224.0,321.9 225.9,319.4 227.1,321.9 228.1,317.6 230.0,315.8 231.9,319.5 233.1,320.1 235.0,318.3 236.9,320.8 238.2,329.5 239.4,326.4 241.3,328.3 243.2,330.2 244.4,323.9 245.7,319.5 247.6,317.0 249.4,313.9 250.7,315.8 251.9,314.5 253.8,318.3 255.1,312.0 257.0,310.1 259.5,308.9 261.3,312.0 263.2,316.4 265.7,318.9 267.6,312.6 269.5,306.4 272.0,303.8 273.9,308.9 275.8,305.1 277.6,299.5 279.5,300.7 281.4,295.1 283.3,294.4 285.2,293.8 287.0,296.3 288.9,291.3 290.8,288.8 292.7,288.2 294.5,290.1 296.4,285.7 298.3,283.2 300.2,284.4 302.7,285.0 304.6,282.5 306.5,286.3 308.3,291.3 310.2,289.4 311.5,291.9 313.3,294.4 314.6,295.7 316.5,302.6 317.7,308.2 319.0,305.7 319.9,306.3 321.8,327.6 323.0,337.0 325.5,335.1 326.1,321.3 327.4,325.1 328.7,328.8 329.9,326.3 331.2,316.9 333.0,318.2 334.9,312.6 336.8,318.2 338.1,315.7 339.9,316.3 341.2,324.5 343.1,325.1 344.9,325.1 346.2,319.4 348.1,316.3 350.6,315.7 351.8,313.8 353.1,311.3 355.0,311.9 357.5,312.6 359.4,314.4 361.2,317.6 362.5,323.2 363.7,331.4 365.0,338.9 366.2,345.1 367.5,338.9 368.1,348.9 369.4,352.7 371.3,350.2 372.5,360.0 373.8,371.3 375.0,381.4 376.3,395.1 377.5,380.7 378.8,393.9 380.7,400.8 381.9,395.1 383.8,405.8 385.7,395.1 387.6,393.3 389.4,390.1 390.7,383.9 393.2,386.4 395.7,390.8 398.2,395.1 400.1,395.8 402.0,383.9 403.8,385.7 405.1,378.8 407.0,373.8 408.9,372.0 410.7,365.1 412.0,363.2 413.2,368.8 415.1,379.5 416.4,374.5 417.6,365.1 418.9,366.3 420.1,370.1 421.4,365.1 423.3,362.6 425.2,368.8 426.4,377.0 428.3,374.5 430.2,370.7 432.0,366.9 433.7,366.3 435.2,371.3 436.4,374.5 437.1,390.1 438.9,389.5 440.2,388.9 441.4,398.3 443.3,393.9 444.6,381.4 446.5,382.0 448.3,381.4 449.6,375.7 451.5,374.5 452.7,377.0 454.0,372.0 455.9,373.8 457.1,376.3 458.4,368.2 460.2,366.9 461.9,363.2 464.4,363.2 466.3,366.3 468.1,370.1 470.0,360.0 471.9,359.4 473.2,360.7 475.0,356.3 476.9,359.4 478.8,363.8 480.7,368.2 482.6,368.8 483.8,367.6 485.1,374.5 485.7,380.1 487.6,380.1 489.4,388.9 490.7,383.9 492.0,392.6 493.2,400.2 494.5,405.2 496.5,408.3 498.0,416.2 499.5,403.0 502.1,403.0 503.6,406.4 504.8,416.5 505.9,418.4 507.4,419.5 508.9,435.3 510.0,426.3 511.5,433.8 513.0,433.1 514.9,424.8 516.4,423.3 517.6,430.1 519.1,445.1 520.6,434.6 522.1,433.8 523.9,445.9 525.5,442.1 526.6,431.6 528.1,431.6 531.1,430.8 532.6,433.8 534.1,443.6 534.8,448.1 536.4,446.6 538.6,445.9 540.1,451.1 542.0,452.6 543.1,457.1 545.1,465.2 546.9,466.4 548.8,458.9 550.7,451.4 552.6,444.5 553.8,449.5 555.1,452.6 556.3,447.0 557.6,442.6 559.5,438.8 561.4,441.4 563.2,441.4 565.1,445.1 567.0,450.8 568.2,451.4 570.1,448.2 572.6,444.5 574.5,450.1 575.8,452.6 577.6,455.1 579.5,458.3 581.4,459.5 582.7,465.2 584.5,471.4 585.8,477.7 587.7,478.9 588.9,486.5 590.2,475.2 592.1,470.2 593.9,470.2 595.8,478.9 597.1,477.7 598.9,475.2 600.2,478.9 602.1,482.7 604.0,482.7 605.8,477.7 607.7,472.7 609.6,466.4 611.5,465.2 613.4,465.8 615.2,463.9 616.9,464.5 618.8,468.3 620.6,471.4 622.5,472.7 623.8,478.3 625.7,477.0 627.5,480.2 629.4,481.4 630.7,475.2 632.5,467.6 633.8,465.8 635.7,467.6 637.6,467.0 639.4,473.3 641.3,469.5 643.2,472.0 645.1,470.2 647.0,468.9 648.2,466.4 650.1,468.9 651.3,465.1 652.6,458.9 654.5,452.6 656.4,450.1 658.2,452.6 660.1,452.6 662.0,450.1 663.2,453.9 664.5,451.4 665.8,443.8 667.0,437.6 668.9,434.4 671.1,432.6 672.6,437.6 673.9,435.7 675.8,438.2 677.0,440.7 678.3,444.5 680.2,450.7 681.4,448.2 683.3,454.5 684.5,447.6 686.4,445.7 688.3,448.8 690.2,453.2 691.4,455.1 693.3,451.4 694.6,448.2 695.8,452.0 697.1,447.6 699.0,442.6 700.8,445.1 702.7,446.3 704.0,444.5 705.9,447.6 707.7,457.6 709.0,462.0 710.9,463.9 711.9,464.4 714.4,468.2 716.9,464.4 718.8,466.9 720.0,473.2 721.9,469.4 724.4,471.3 726.9,466.3 728.8,472.0 730.0,476.3 731.9,483.2 733.8,480.1 735.7,478.2 736.9,486.4 738.8,488.2 740.7,489.5 742.0,496.4 743.8,498.9 746.3,508.3 747.6,497.6 749.5,502.7 751.4,498.9 753.9,500.2 755.7,500.2 756.6,492.0 758.2,497.0 760.1,495.8 762.0,498.3 763.9,503.9 765.8,508.3 767.6,510.8 769.5,514.6 772.5,513.9 774.4,515.1 776.3,523.9 778.1,525.1 780.0,525.8 781.9,530.2 783.8,536.4 785.7,541.4 786.9,532.7 788.2,521.4 790.0,528.9 791.9,520.1 793.8,524.5 795.1,519.5 796.9,517.6 798.8,517.6 800.7,519.5 802.6,520.8 804.5,526.4 806.3,528.3 807.6,515.1 808.8,507.6 810.1,503.8 811.4,496.3 813.2,495.7 815.1,488.2 817.0,491.9 818.9,498.2 820.8,495.7 822.6,490.0 825.1,492.6 827.0,495.7 828.3,506.3 830.2,504.5 831.4,503.8 832.7,508.2 834.5,510.1 836.4,516.4 837.7,510.1 839.5,508.8 841.4,507.0 843.3,503.2 845.2,508.8 847.1,515.1 848.9,515.7 850.8,512.0 852.1,518.2 854.0,520.1 855.8,519.5 857.7,517.6 859.6,518.9 861.5,522.6 863.4,521.4 865.2,520.1 867.1,522.0 867.7,513.9 869.4,516.3 870.6,511.9 872.5,505.0 874.4,511.9 876.3,511.3 878.2,510.7 880.0,515.7 882.5,516.9 884.4,518.2 886.3,514.4 888.8,510.0 891.3,513.2 893.2,513.2 894.4,522.6 897.0,525.7 899.5,528.2 902.0,531.4 904.5,531.4 905.7,538.9 907.6,541.4 908.9,543.9 911.1,544.4 913.3,554.9 915.5,557.5 917.3,559.3 918.6,549.6 919.5,559.7 921.2,560.2 922.1,561.9 923.9,566.3 925.2,572.5 926.5,577.7 928.2,578.6 929.6,581.2 931.3,588.2 932.6,593.5 933.5,583.9 933.9,575.1 935.3,568.9 936.1,565.0 937.9,564.6 939.2,568.9 941.0,574.2 942.7,577.7 944.0,576.0 944.9,571.1 946.2,569.8 948.4,568.1 949.7,560.6 951.5,562.4 952.8,565.4 953.7,561.5 955.0,558.9 956.3,562.8 957.6,567.2 959.4,572.5 961.1,572.0 962.5,566.8 964.4,565.1 965.6,567.0 967.5,563.2 968.8,560.7 970.0,555.1 971.3,550.0 973.2,548.2 974.4,550.0 975.7,554.4 976.9,556.3 978.2,561.3 979.4,563.8 981.3,565.1 983.2,563.8 984.4,571.4 985.7,573.2 986.9,576.4 988.8,578.2 990.7,575.7 992.0,580.1 993.8,583.9 995.7,587.6 998.2,582.6 999.5,586.4 1001.4,590.2 1003.2,593.3 1004.5,588.3 1006.4,588.3 1008.2,593.9 1010.1,600.2 1012.0,604.6 1013.9,605.8 1016.4,607.7 1017.6,612.7 1018.9,602.7 1020.8,602.7 1022.7,605.8 1023.9,603.3 1025.2,608.9 1027.7,610.2 1029.6,611.5 1031.4,612.1 1032.7,608.9 1034.6,606.4 1036.4,610.2 1038.3,615.2 1040.2,616.5 1042.1,610.2 1044.0,602.1 1045.8,602.7 1047.7,603.9 1049.6,598.3 1051.5,595.2 1053.4,597.0 1054.6,600.2 1056.9,600.7 1058.8,598.2 1060.0,600.1 1061.3,606.4 1063.1,605.7 1065.0,603.2 1066.9,606.4 1068.8,608.9 1070.7,607.6 1072.5,603.9 1074.4,605.7 1076.3,608.2 1078.2,610.8 1080.1,613.3 1082.6,615.8 1084.4,603.9 1085.5,595.5 1086.4,599.0 1087.3,595.5 1088.2,599.0 1089.1,595.3 1090.0,599.0 1091.0,595.3 1092.0,599.0 1093.0,595.0 1094.5,596.3 1096.0,600.5 1097.5,603.5 1099.0,599.0 1101.5,600.0 1104.3,601.5 1105.8,600.1 1107.0,593.8 1108.3,593.2 1110.1,590.1 1112.0,591.3 1113.9,590.1 1115.8,593.2 1117.7,595.7 1119.5,597.6 1121.4,600.1 1123.3,603.2 1125.2,602.6 1127.1,605.7 1128.9,603.9 1130.8,603.9 1132.7,605.7 1134.6,608.2 1136.5,610.1 1138.3,610.8 1140.2,607.6 1141.5,613.3 1143.3,616.4 1145.2,617.0 1147.1,620.2 1149.0,625.2 1150.2,626.5 1151.9,627.3 1153.8,629.1 1156.1,631.5 1158.5,626.8 1160.3,628.2 1162.2,632.0 1163.6,633.8 1165.5,630.1 1166.9,634.8 1168.8,634.8 1170.7,634.3 1172.6,631.0 1174.0,634.8 1174.9,639.0 1176.8,639.5 1178.7,641.4 1180.5,642.3 1182.4,641.4 1183.4,634.8 1185.2,637.1 1186.7,637.6 1188.5,637.1 1189.9,636.7 1191.4,642.3 1192.8,644.6 1194.6,642.3 1196.1,642.3 1197.9,643.7 1199.8,643.2 1202.2,643.2 1204.0,644.6 1205.5,647.9 1206.9,649.3 1208.7,651.7 1210.6,654.0 1212.5,656.4 1214.4,654.5 1215.8,650.8 1217.7,646.5 1219.5,649.3 1221.0,652.6 1222.4,655.5 1223.8,655.5 1224.7,649.8 1226.1,651.7 1228.0,650.8 1229.4,647.9 1230.8,647.0 1232.2,650.8 1234.1,651.2 1236.0,651.7 1237.9,652.6 1239.3,653.1 1240.7,655.0 1242.6,656.9 1244.0,658.7 1245.9,658.3 1247.7,658.7 1249.2,656.9 1251.0,657.3 1252.9,657.3 1254.8,656.9 1255.7,659.2 1257.1,661.6" fill="none" stroke="#000" stroke-width="3.6" stroke-linejoin="round" stroke-linecap="round"/>
</svg></body></html>
